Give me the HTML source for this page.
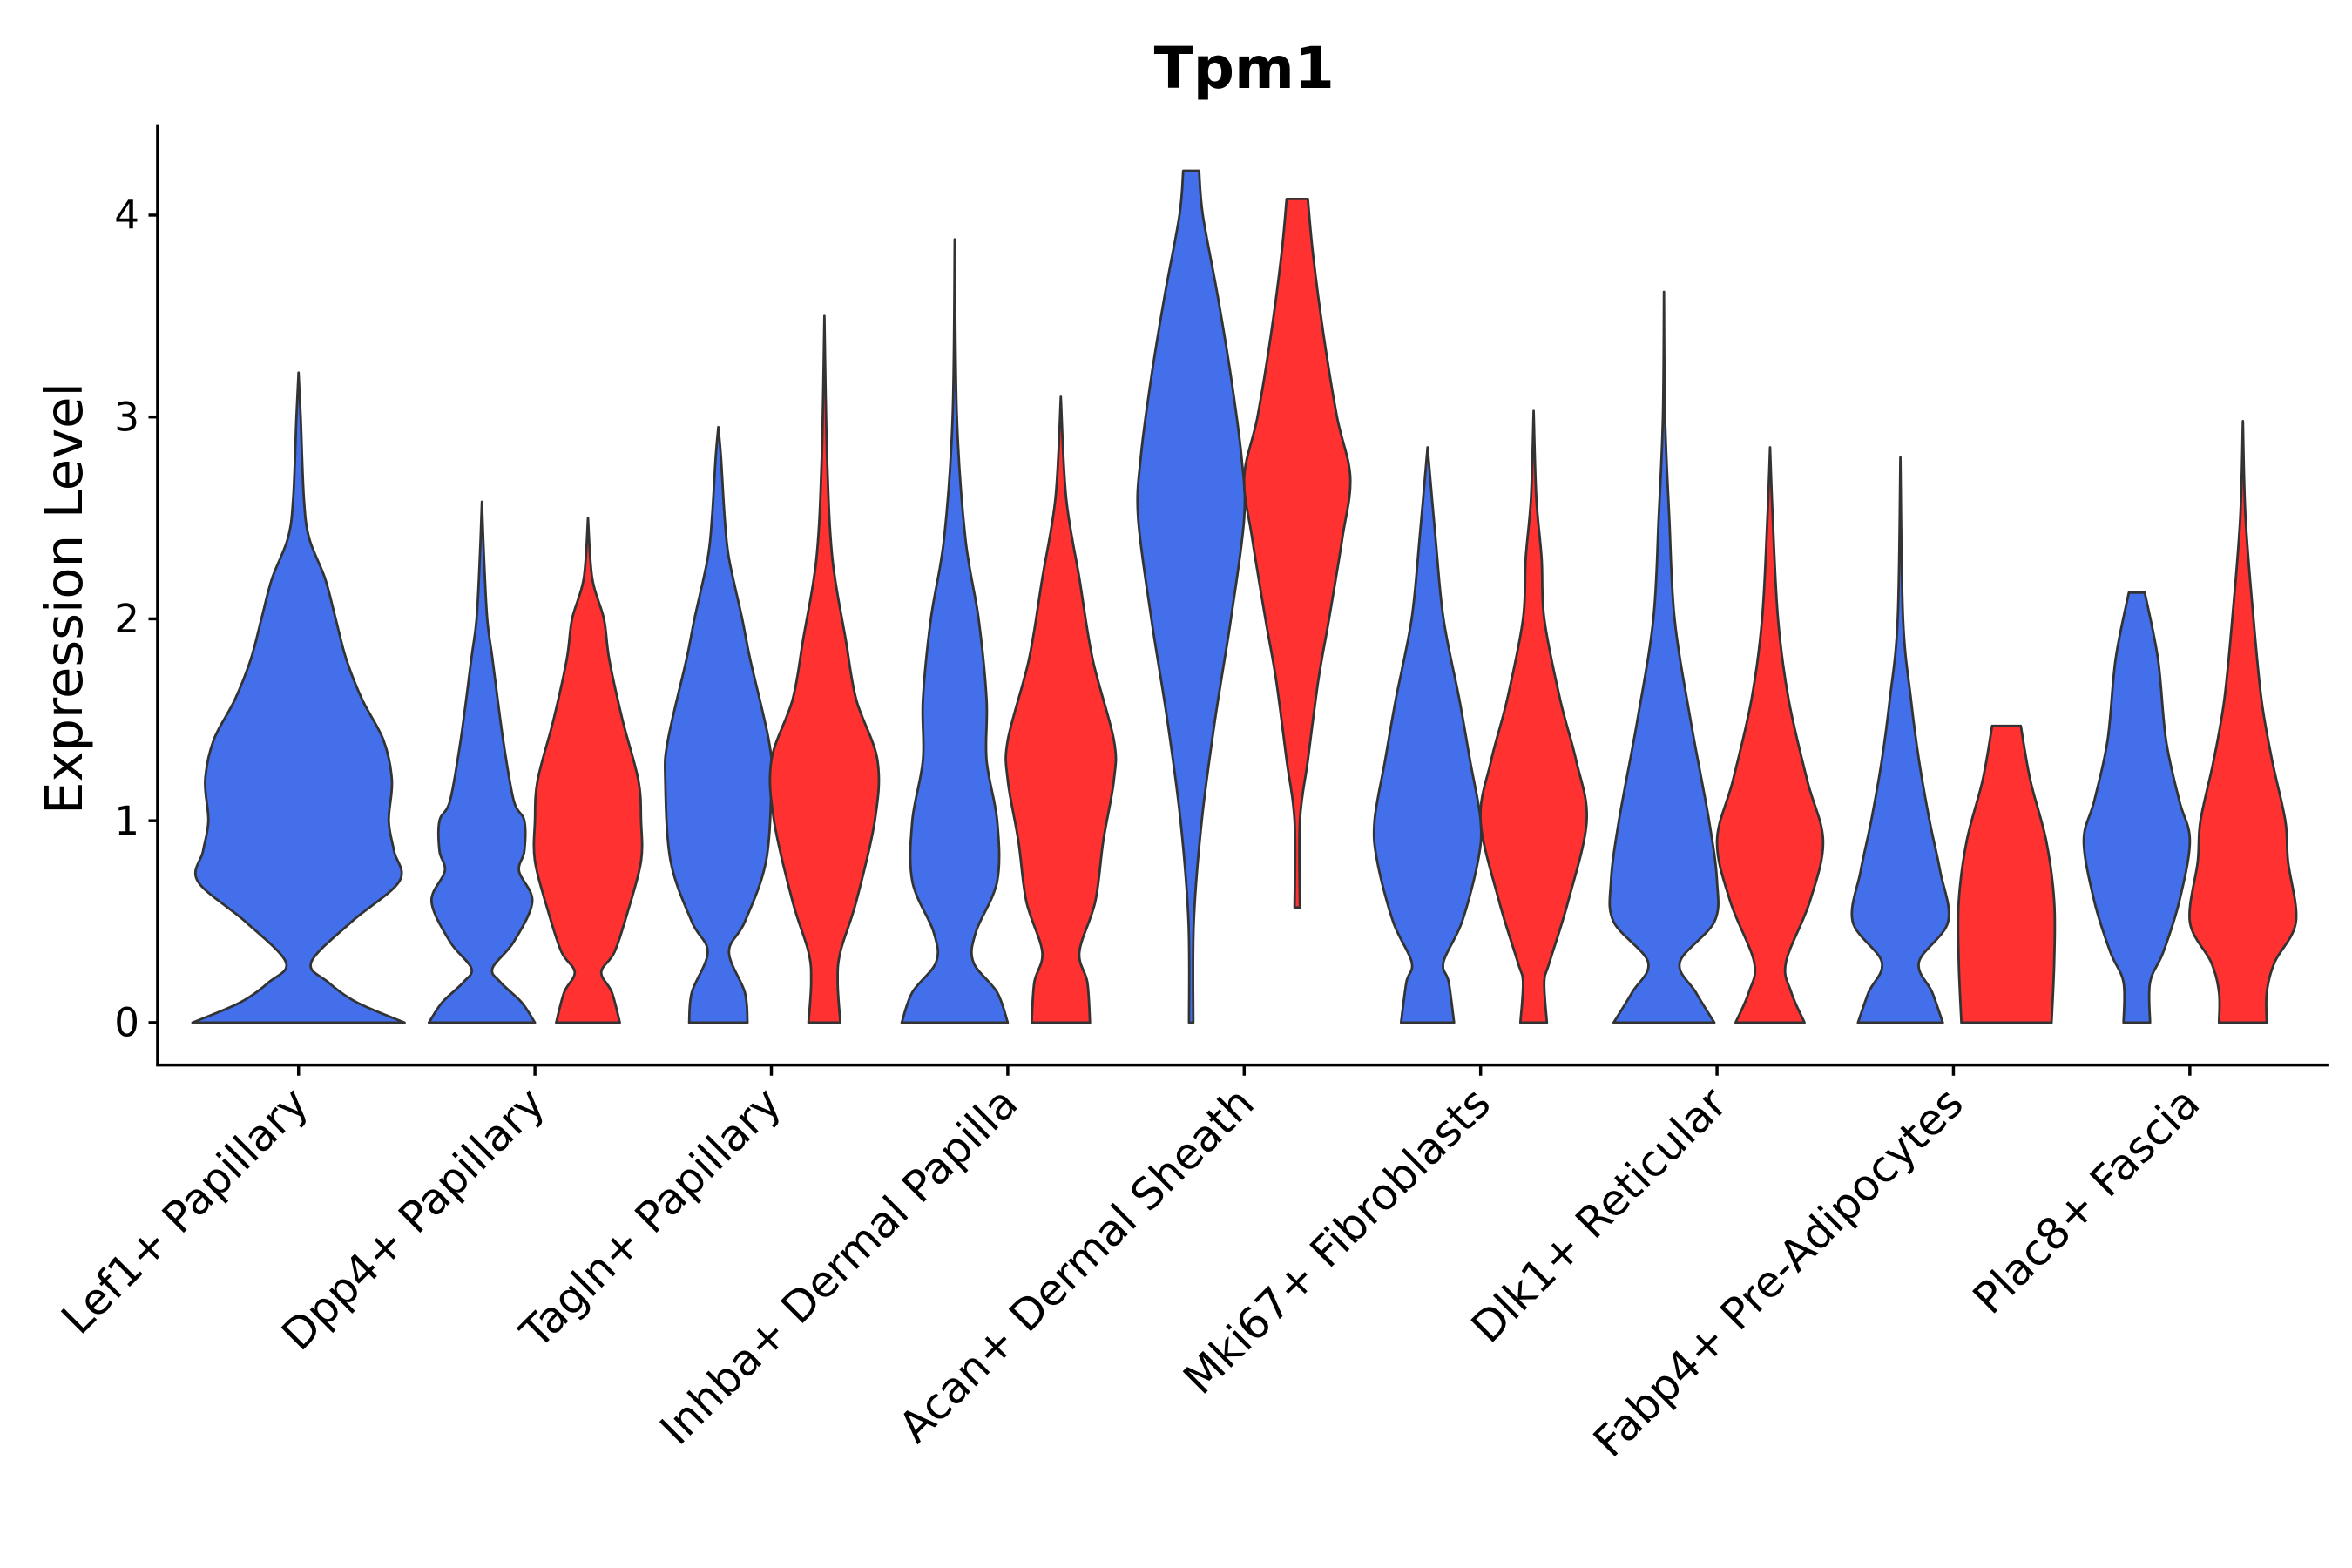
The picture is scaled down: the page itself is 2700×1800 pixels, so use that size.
<!DOCTYPE html>
<html><head><meta charset="utf-8"><style>
html,body{margin:0;padding:0;background:#fff;}
svg{display:block;}
text{font-family:"DejaVu Sans","Liberation Sans",sans-serif;fill:#000;}
</style></head><body>
<svg id="chart" width="2700" height="1800" viewBox="0 0 1552 1035" preserveAspectRatio="none" xmlns="http://www.w3.org/2000/svg">
<rect width="1552" height="1035" fill="#fff"/>
<text x="821" y="58" font-size="38" font-weight="bold" text-anchor="middle">Tpm1</text>
<text transform="translate(54,395) rotate(-90)" font-size="34" text-anchor="middle">Expression Level</text>
<g id="violins"></g>
<g id="axes"></g>
</svg>
<script>
const categories = ["Lef1+ Papillary","Dpp4+ Papillary","Tagln+ Papillary","Inhba+ Dermal Papilla","Acan+ Dermal Sheath","Mki67+ Fibroblasts","Dlk1+ Reticular","Fabp4+ Pre-Adipocytes","Plac8+ Fascia"];
const yTicks = [0,1,2,3,4];
const blueViolins = [
 [[0,1],[0.1,0.55],[0.2,0.28],[0.3,0.12],[0.5,0.5],[0.7,0.95],[0.85,0.9],[1.0,0.85],[1.2,0.88],[1.4,0.8],[1.6,0.6],[1.8,0.45],[2.0,0.35],[2.2,0.25],[2.4,0.1],[2.6,0.05],[3.0,0.02],[3.22,0]],
 [[0,1],[0.1,0.75],[0.2,0.35],[0.27,0.2],[0.4,0.6],[0.6,0.95],[0.75,0.7],[0.85,0.8],[1.0,0.8],[1.1,0.6],[1.4,0.4],[1.8,0.2],[2.0,0.1],[2.3,0.04],[2.58,0]],
 [[0,0.55],[0.15,0.5],[0.35,0.2],[0.5,0.5],[0.8,0.9],[1.2,1.0],[1.4,0.95],[1.8,0.6],[2.0,0.45],[2.3,0.2],[2.5,0.12],[2.8,0.05],[2.95,0]],
 [[0,1],[0.15,0.8],[0.3,0.35],[0.45,0.4],[0.7,0.8],[1.0,0.8],[1.3,0.6],[1.6,0.6],[2.0,0.45],[2.4,0.2],[3.0,0.04],[3.88,0]],
 [[0,0.04],[0.5,0.05],[1.0,0.2],[1.5,0.45],[2.0,0.75],[2.5,1.0],[2.8,0.95],[3.2,0.75],[3.6,0.5],[4.0,0.22],[4.22,0.15]],
 [[0,0.5],[0.2,0.4],[0.3,0.3],[0.5,0.65],[0.8,0.95],[1.0,1.0],[1.3,0.8],[1.6,0.6],[2.0,0.3],[2.4,0.15],[2.85,0]],
 [[0,0.95],[0.15,0.6],[0.3,0.3],[0.5,0.95],[0.7,1.0],[1.0,0.85],[1.5,0.5],[2.0,0.2],[2.5,0.1],[3.0,0.02],[3.62,0]],
 [[0,0.8],[0.15,0.6],[0.3,0.35],[0.5,0.9],[0.75,0.75],[1.0,0.55],[1.3,0.35],[1.6,0.2],[2.0,0.05],[2.8,0]],
 [[0,0.25],[0.2,0.25],[0.35,0.5],[0.6,0.8],[0.9,1.0],[1.1,0.8],[1.4,0.55],[1.8,0.4],[2.13,0.15]]
];
const redViolins = [
 null,
 [[0,0.6],[0.15,0.45],[0.25,0.25],[0.35,0.5],[0.55,0.75],[0.8,1.0],[1.0,1.0],[1.2,0.95],[1.5,0.65],[1.8,0.4],[2.0,0.3],[2.2,0.08],[2.5,0]],
 [[0,0.3],[0.2,0.25],[0.35,0.3],[0.6,0.6],[1.0,0.95],[1.3,1.0],[1.6,0.6],[1.9,0.4],[2.3,0.15],[2.8,0.05],[3.5,0]],
 [[0,0.55],[0.2,0.5],[0.35,0.35],[0.6,0.65],[0.9,0.8],[1.2,1.0],[1.4,1.0],[1.8,0.6],[2.2,0.35],[2.6,0.1],[3.1,0]],
 [[0.57,0.05],[1.0,0.05],[1.3,0.2],[1.7,0.4],[2.0,0.6],[2.4,0.85],[2.7,1.0],[3.0,0.75],[3.4,0.5],[3.8,0.3],[4.08,0.2]],
 [[0,0.25],[0.2,0.2],[0.3,0.3],[0.6,0.65],[1.0,1.0],[1.3,0.8],[1.6,0.5],[2.0,0.2],[2.3,0.15],[2.6,0.05],[3.03,0]],
 [[0,0.65],[0.15,0.4],[0.3,0.3],[0.6,0.75],[0.9,1.0],[1.2,0.7],[1.6,0.35],[2.0,0.15],[2.5,0.05],[2.85,0]],
 [[0,0.85],[0.3,0.9],[0.6,0.9],[0.9,0.75],[1.2,0.45],[1.47,0.27]],
 [[0,0.45],[0.15,0.45],[0.3,0.6],[0.5,1.0],[0.8,0.85],[1.0,0.8],[1.3,0.55],[1.6,0.35],[2.0,0.2],[2.5,0.05],[2.98,0]]
];
const NS="http://www.w3.org/2000/svg";
const X0=104, X1=1537, YT=82, YB=703;
function yScale(v){return 675 - v*133.25;}
function xScale(i){return 197 + i*156;}
function mk(tag,attrs,parent){const e=document.createElementNS(NS,tag);for(const k in attrs)e.setAttribute(k,attrs[k]);parent.appendChild(e);return e;}
function smoothPts(pts){
  let d="";
  for(let i=0;i<pts.length-1;i++){
    const p0=pts[Math.max(0,i-1)],p1=pts[i],p2=pts[i+1],p3=pts[Math.min(pts.length-1,i+2)];
    const c1=[p1[0]+(p2[0]-p0[0])/6,p1[1]+(p2[1]-p0[1])/6];
    const c2=[p2[0]-(p3[0]-p1[0])/6,p2[1]-(p3[1]-p1[1])/6];
    d+=` C${c1[0].toFixed(2)},${c1[1].toFixed(2)} ${c2[0].toFixed(2)},${c2[1].toFixed(2)} ${p2[0].toFixed(2)},${p2[1].toFixed(2)}`;
  }
  return d;
}
function violinPath(prof,cx,hw){
  const right=prof.map(p=>[cx+p[1]*hw,yScale(p[0])]);
  const left=prof.slice().reverse().map(p=>[cx-p[1]*hw,yScale(p[0])]);
  let d=`M${right[0][0]},${right[0][1]}`+smoothPts(right);
  d+=` L${left[0][0]},${left[0][1]}`+smoothPts(left)+" Z";
  return d;
}
const vg=document.getElementById('violins');
categories.forEach((c,i)=>{
  const cx=xScale(i);
  const red=redViolins[i];
  if(!red){
    const p=mk('path',{d:violinPath(blueViolins[i],cx,70),fill:'#4370EA',stroke:'#333',"stroke-width":1.6,"stroke-linejoin":"round"},vg);
    
    
  } else {
    const p=mk('path',{d:violinPath(blueViolins[i],cx-35,35),fill:'#4370EA',stroke:'#333',"stroke-width":1.6,"stroke-linejoin":"round"},vg);
    
    
    const q=mk('path',{d:violinPath(red,cx+35,35),fill:'#FF3131',stroke:'#333',"stroke-width":1.6,"stroke-linejoin":"round"},vg);
    
    
  }
});
const ag=document.getElementById('axes');
const ya=mk('line',{x1:X0,y1:YT,x2:X0,y2:YB,stroke:'#000',"stroke-width":2},ag);


const xa=mk('line',{x1:X0-1,y1:YB,x2:X1,y2:YB,stroke:'#000',"stroke-width":2},ag);


yTicks.forEach(t=>{
  const y=yScale(t);
  mk('line',{x1:X0-6,y1:y,x2:X0,y2:y,stroke:'#000',"stroke-width":2},ag);
  const tx=mk('text',{x:X0-12,y:y+9,"font-size":26,"text-anchor":"end"},ag);
  tx.textContent=t;
  
  
});
categories.forEach((c,i)=>{
  const x=xScale(i);
  mk('line',{x1:x,y1:YB,x2:x,y2:YB+7,stroke:'#000',"stroke-width":2},ag);
  const tx=mk('text',{transform:`translate(${x+8},${YB+27}) rotate(-45)`,"font-size":28.5,"text-anchor":"end"},ag);
  tx.textContent=c;
  
  
});
</script>
</body></html>
